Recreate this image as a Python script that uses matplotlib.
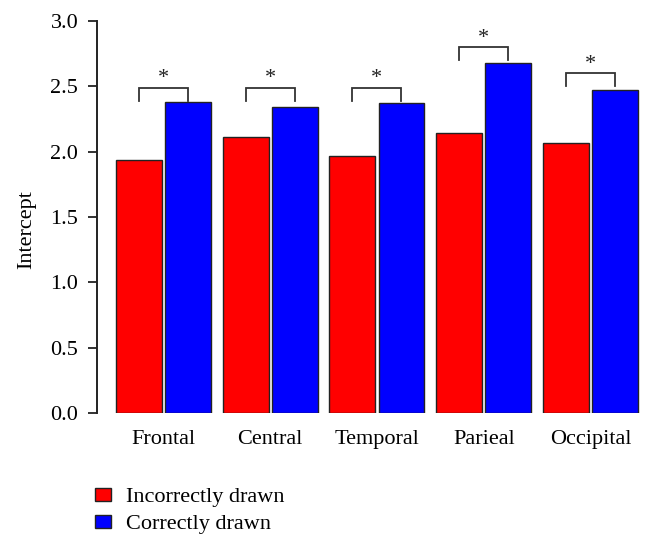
import matplotlib
matplotlib.use("Agg")
import matplotlib.pyplot as plt
from matplotlib.patches import Patch
import numpy as np

plt.rcParams['font.family'] = ['Liberation Serif', 'DejaVu Serif']

regions = ["Frontal", "Central", "Temporal", "Parieal", "Occipital"]
incorrect = [1.94, 2.11, 1.97, 2.14, 2.07]
correct = [2.38, 2.34, 2.37, 2.68, 2.47]
bracket_top = [2.49, 2.49, 2.49, 2.80, 2.60]
legend_labels = ["Incorrectly drawn", "Correctly drawn"]

w = 1.0     # bar width
g = 0.07    # gap inside a group
period = 2.33

fig = plt.figure(figsize=(6.52, 5.48), dpi=100)
ax = fig.add_axes([97 / 652, (548 - 413) / 548, 548 / 652, 392 / 548])

x = np.arange(len(regions)) * period
x_red = x + w / 2
x_blue = x + w + g + w / 2

ax.bar(x_red, incorrect, w, color="#ff0000", edgecolor="#222222", linewidth=1.0)
ax.bar(x_blue, correct, w, color="#0000ff", edgecolor="#222222", linewidth=1.0)

# significance brackets
for i in range(len(regions)):
    top = bracket_top[i]
    bot = top - 0.1
    ax.plot([x_red[i], x_red[i], x_blue[i], x_blue[i]], [bot, top, top, bot],
            color="#333333", linewidth=1.3, solid_joinstyle="miter")
    ax.text((x_red[i] + x_blue[i]) / 2, top - 0.005, "*", ha="center", va="bottom",
            fontsize=16, color="#222222")

ax.set_xlim(-0.41, x_blue[-1] + w / 2 + 0.15)
ax.set_ylim(0, 3.0)
ax.set_yticks(np.arange(0, 3.01, 0.5))
ax.set_yticklabels(["%.1f" % v for v in np.arange(0, 3.01, 0.5)])
ax.set_xticks((x_red + x_blue) / 2)
ax.set_xticklabels(regions)

for s in ["top", "right", "bottom"]:
    ax.spines[s].set_visible(False)
ax.spines["left"].set_linewidth(1.4)
ax.spines["left"].set_color("#222222")
ax.tick_params(axis="y", length=6.5, width=1.3, pad=7, labelsize=16, color="#222222")
ax.tick_params(axis="x", length=0, pad=12, labelsize=16)

ax.set_ylabel("Intercept", fontsize=16)
ax.yaxis.set_label_coords(-0.111, 0.467)

handles = [Patch(facecolor="#ff0000", edgecolor="#222222"),
           Patch(facecolor="#0000ff", edgecolor="#222222")]
fig.legend(handles, legend_labels, loc="upper left", bbox_to_anchor=(0.146, 0.109),
           frameon=False, fontsize=16, handlelength=0.72, handleheight=0.5,
           handletextpad=0.65, labelspacing=0.34, borderaxespad=0, borderpad=0)

fig.savefig("out.png", dpi=100)
